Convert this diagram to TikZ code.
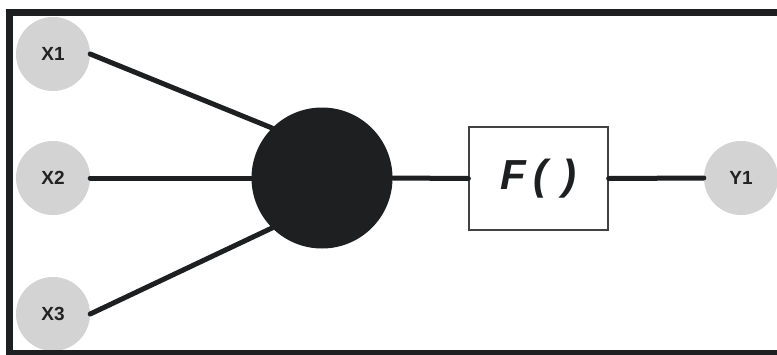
\documentclass[tikz,border=0pt]{standalone}
\usepackage{fontspec}
\setmainfont{Liberation Sans}
\definecolor{greyc}{HTML}{D3D3D3}
\definecolor{blk}{HTML}{1E1F21}
\definecolor{txt}{HTML}{222222}
\begin{document}
\begin{tikzpicture}[x=1pt,y=-1pt,
  inp/.style={circle, fill=greyc, minimum size=74pt, inner sep=0pt,
    font=\fontsize{19}{19}\selectfont\bfseries, text=txt},
  conn/.style={line width=5pt, draw=blk, line cap=round},
  fbox/.style={draw=blk!85, line width=1.3pt, fill=white, minimum width=139pt,
    minimum height=103pt, inner sep=0pt,
    font=\fontsize{42}{42}\selectfont\bfseries\itshape, text=blk}]
\useasboundingbox (0,0) rectangle (777,354);
\clip (0,0) rectangle (777,354);
\fill[white] (0,0) rectangle (777,354);
\node[inp] (x1) at (53,54) {X1};
\node[inp] (x2) at (53,178) {X2};
\node[inp] (x3) at (53,314) {X3};
\node[inp] (y1) at (741,178) {Y1};
\node[circle, fill=blk, minimum size=141pt, inner sep=0pt] (sum) at (322,178) {};
\node[fbox] (f) at (538.5,178.5) {F\hspace{7pt}(\hspace{15pt})};
\draw[conn] (x1.east) -- (sum.135);
\draw[conn] (x2.east) -- (sum.west);
\draw[conn] (x3.east) -- (sum.225);
\draw[conn] (sum.east) -- (f.west);
\draw[conn] (f.east) -- (y1.west);
\draw[blk, line width=7pt] (9.5,12) rectangle (800,353.5);
\end{tikzpicture}
\end{document}
